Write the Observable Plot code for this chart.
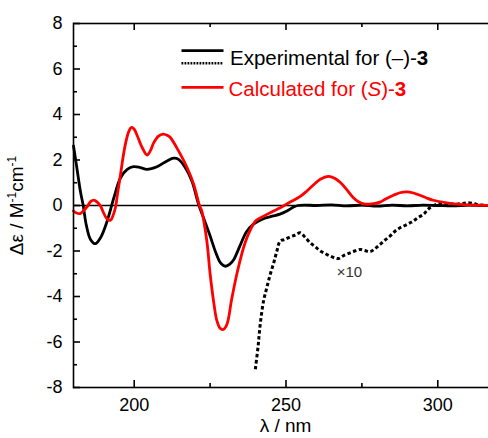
<!DOCTYPE html>
<html><head><meta charset="utf-8">
<script src="https://cdn.jsdelivr.net/npm/d3@7"></script>
<script src="https://cdn.jsdelivr.net/npm/@observablehq/plot@0.6"></script>
<style>html,body{margin:0;padding:0;overflow:hidden;background:#fff;width:488px;height:438px}svg{max-width:none!important}</style>
</head><body><div id="chart"></div><script>
// Experimental CD (solid black)
const expX = [180,181,182.3,183.2,184.2,185.6,187.2,188.9,191.1,193.3,195.5,197.7,199.8,202,204.2,207.5,210.8,213,214.6,216.8,219,221.2,223,224.9,227.1,228.6,230.1,231.5,232.7,234.9,237,239.3,241,243,245.5,248,250.3,252.5,254,256,260,265,270,275,280,285,290,295,300,305,310,315,320];
const expY = [2.62,1.75,0.6,0,-0.85,-1.49,-1.68,-1.42,-0.68,0.34,1.22,1.59,1.71,1.67,1.59,1.7,1.96,2.08,2.03,1.67,1.08,0.05,-0.6,-1.3,-2.15,-2.55,-2.67,-2.58,-2.4,-1.75,-1.15,-0.82,-0.68,-0.56,-0.47,-0.38,-0.24,-0.07,0,0.02,0,0.03,-0.02,0.02,-0.03,0.02,-0.02,0.02,0,-0.02,0.02,0,0];
// Experimental x10 (dotted black)
const x10X = [239.9,240.8,241.5,242.6,243.7,244.8,246,247,248.1,249.5,251.4,253,254.7,256.3,258,259.7,261.3,263,264.5,266,267.3,269,271.1,272.7,274.4,276,277.7,279.3,281,282.6,284.3,286,287.6,289.2,290.9,292,293.6,295.3,296.4,297.4,299,300.7,302.3,304,305.7,307.3,308.7,310,311.4,312.8,314.4,316,318,320];
const x10Y = [-7.2,-6.2,-5.23,-4.2,-3.6,-3.03,-2.5,-2.0,-1.56,-1.5,-1.38,-1.3,-1.2,-1.4,-1.64,-1.82,-2.0,-2.12,-2.22,-2.3,-2.33,-2.2,-2.08,-2.0,-1.93,-1.98,-2.03,-1.9,-1.71,-1.52,-1.34,-1.12,-0.98,-0.88,-0.76,-0.68,-0.52,-0.39,-0.22,-0.1,0.02,0.08,0.06,0.08,0.05,0.08,0.1,0.12,0.1,0.05,0.02,0,0,0];
// Calculated CD (red)
const calcX = [180,181,182.3,183.5,184.5,185.7,186.7,187.8,188.9,190,191.1,192.2,193,193.8,194.6,195.5,196.3,197.1,198.2,199.1,200,200.9,202.6,204.2,205.3,206.4,208,209.5,211,211.9,214.6,217.4,219.6,221.5,222.2,223.9,225,226.1,227.2,228.3,229.3,230.3,231,232,234,236.5,238.5,240.2,241.5,243.7,245.9,248.1,251.4,254.7,256.9,259,261.3,264,266,268,270,272.2,274,276,278.8,281,283,285.4,287.5,289.8,292,294.1,296.3,298.5,302.9,307.3,313.8,320];
const calcY = [-0.24,-0.33,-0.35,-0.2,-0.05,0.18,0.24,0.15,-0.02,-0.35,-0.6,-0.65,-0.45,-0.1,0.6,1.37,2.1,2.7,3.25,3.43,3.35,3.1,2.55,2.22,2.4,2.75,3.05,3.14,3.08,2.99,2.4,1.67,0.93,0,-0.22,-1.54,-3.0,-4.17,-5.05,-5.4,-5.45,-5.3,-5.0,-4.2,-2.9,-1.65,-1.0,-0.65,-0.55,-0.39,-0.24,-0.1,0.15,0.4,0.64,0.9,1.15,1.28,1.2,1.0,0.7,0.34,0.15,0.06,0.08,0.15,0.3,0.45,0.56,0.6,0.55,0.45,0.33,0.23,0.12,0.05,0.01,0];

const xTicks = [200, 250, 300];
const xMinor = [225, 275];
const yTicks = [-8, -6, -4, -2, 0, 2, 4, 6, 8];
const yMinor = [-7, -5, -3, -1, 1, 3, 5, 7];
const annX = [270.9], annY = [-2.95], annText = ["×10"];

const exp = expX.map((x, i) => ({x, y: expY[i]}));
const x10 = x10X.map((x, i) => ({x, y: x10Y[i]}));
const calc = calcX.map((x, i) => ({x, y: calcY[i]}));
const ann = annX.map((x, i) => ({x, y: annY[i], t: annText[i]}));

const W = 500, H = 438, mL = 73, mR = 2, mT = 23, mB = 51;
const pw = W - mL - mR, ph = H - mT - mB;
const font = "'Liberation Sans', Arial, Helvetica, sans-serif";

const chart = Plot.plot({
  width: W, height: H,
  marginLeft: mL, marginRight: mR, marginTop: mT, marginBottom: mB,
  x: {domain: [180, 320]},
  y: {domain: [-8, 8]},
  style: {fontFamily: font, fontSize: "18px", color: "black", background: "white", overflow: "visible", maxWidth: "none"},
  marks: [
    Plot.ruleY([0], {stroke: "black", strokeWidth: 1.3}),
    Plot.line(x10, {x: "x", y: "y", stroke: "black", strokeWidth: 3, strokeDasharray: "3.5,2.5", strokeLinecap: "butt", curve: "catmull-rom"}),
    Plot.line(exp, {x: "x", y: "y", stroke: "black", strokeWidth: 2.8, curve: "catmull-rom"}),
    Plot.line(calc, {x: "x", y: "y", stroke: "#ff0000", strokeWidth: 2.8, curve: "catmull-rom"}),
    Plot.text(ann, {x: "x", y: "y", text: "t", fontSize: 15, fill: "#333", textAnchor: "middle", lineAnchor: "middle"}),
    Plot.frame({stroke: "black", strokeWidth: 1.6}),
    Plot.tickX(xTicks, {x: d => d, insetTop: ph - 7, stroke: "black", strokeWidth: 1.6}),
    Plot.tickX(xTicks, {x: d => d, insetBottom: ph - 7, stroke: "black", strokeWidth: 1.6}),
    Plot.tickX(xMinor, {x: d => d, insetTop: ph - 4, stroke: "black", strokeWidth: 1.6}),
    Plot.tickX(xMinor, {x: d => d, insetBottom: ph - 4, stroke: "black", strokeWidth: 1.6}),
    Plot.tickY(yTicks, {y: d => d, insetRight: pw - 7, stroke: "black", strokeWidth: 1.6}),
    Plot.tickY(yMinor, {y: d => d, insetRight: pw - 4, stroke: "black", strokeWidth: 1.6}),
    Plot.axisX({ticks: xTicks, tickSize: 0, tickPadding: 11, label: null, fontSize: 18, tickFormat: d => String(d)}),
    Plot.axisY({ticks: yTicks, tickSize: 0, tickPadding: 11, label: null, fontSize: 18, tickFormat: d => String(d)})
  ]
});
chart.style.maxWidth = "none";
document.getElementById("chart").appendChild(chart);

const svg = d3.select(chart);
// axis titles
svg.append("text").attr("x", (mL + W - mR) / 2).attr("y", 432).attr("text-anchor", "middle")
  .attr("font-family", font).attr("font-size", 19).attr("fill", "black").text("λ / nm");
const yl = svg.append("text").attr("transform", "translate(23,205.5) rotate(-90)").attr("text-anchor", "middle")
  .attr("font-family", font).attr("font-size", 19).attr("fill", "black");
yl.append("tspan").text("Δε / M");
yl.append("tspan").attr("dy", -7).attr("font-size", 12).text("-1");
yl.append("tspan").attr("dy", 7).text("cm");
yl.append("tspan").attr("dy", -7).attr("font-size", 12).text("-1");

// legend
const lg = svg.append("g").attr("font-family", font).attr("font-size", 20.5).attr("text-anchor", "start");
lg.append("line").attr("x1", 181.5).attr("x2", 223.5).attr("y1", 50.7).attr("y2", 50.7).attr("stroke", "black").attr("stroke-width", 2.8);
lg.append("line").attr("x1", 181.5).attr("x2", 223.5).attr("y1", 63.3).attr("y2", 63.3).attr("stroke", "black").attr("stroke-width", 2.5).attr("stroke-linecap", "butt").attr("stroke-dasharray", "1.8,1.2");
lg.append("line").attr("x1", 181.5).attr("x2", 223.5).attr("y1", 87.3).attr("y2", 87.3).attr("stroke", "#ff0000").attr("stroke-width", 2.8);
const t1 = lg.append("text").attr("x", 230).attr("y", 64.5).attr("fill", "black");
t1.append("tspan").text("Experimental for (–)-");
t1.append("tspan").attr("font-weight", "bold").text("3");
const t2 = lg.append("text").attr("x", 228.5).attr("y", 96.3).attr("fill", "#ff0000");
t2.append("tspan").text("Calculated for (");
t2.append("tspan").attr("font-style", "italic").text("S");
t2.append("tspan").text(")-");
t2.append("tspan").attr("font-weight", "bold").text("3");
</script></body></html>
